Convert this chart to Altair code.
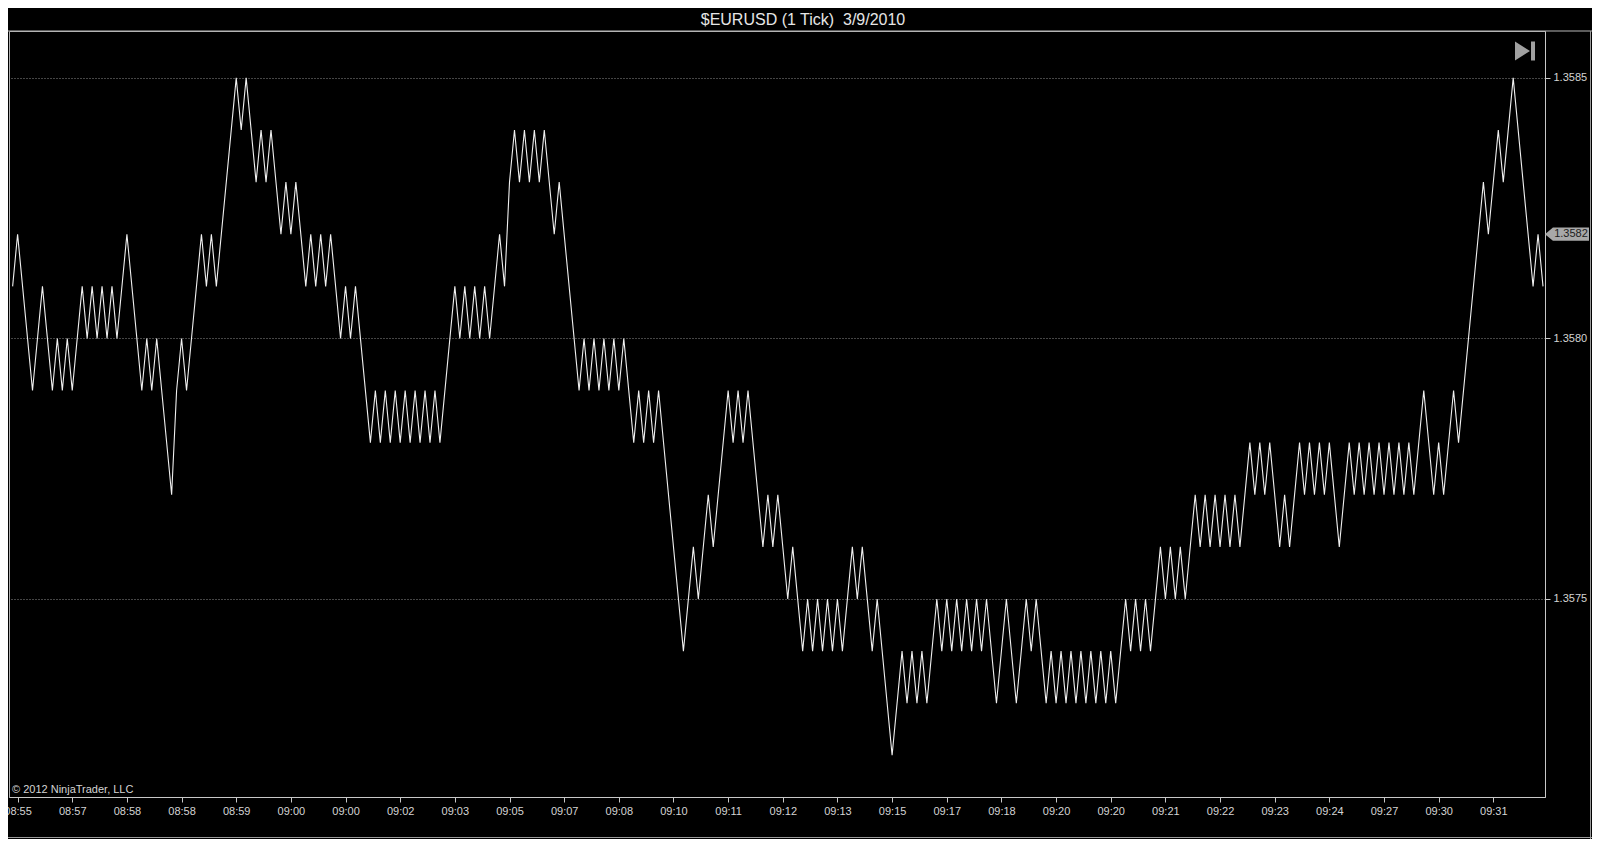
import json
import altair as alt
import pandas as pd

# ---- data (tick index of each turning point, price) ----
tick_index = [
    0, 1, 4, 6, 8, 9, 10, 11, 12, 14, 15, 16, 17, 18, 19, 20, 21, 23, 26, 27, 28, 29, 32, 33, 34, 35, 38, 39,
    40, 41, 45, 46, 47, 49, 50, 51, 52, 54, 55, 56, 57, 59, 60, 61, 62, 63, 64, 66, 67, 68, 69,
    72, 73, 74, 75, 76, 77, 78, 79, 80, 81, 82, 83, 84, 85, 86,
    89, 90, 91, 92, 93, 94, 95, 96, 98, 99, 100, 101, 102, 103, 104, 105, 106, 107, 109, 110,
    114, 115, 116, 117, 118, 119, 120, 121, 122, 123, 125, 126, 127, 128, 129, 130,
    135, 137, 138, 140, 141, 144, 145, 146, 147, 148, 151, 152, 153, 154, 156, 157,
    159, 160, 161, 162, 163, 164, 165, 166, 167, 169, 170, 171, 173, 174, 177,
    179, 180, 181, 182, 183, 184, 186, 187,
    188, 189, 190, 191, 192, 193, 194, 195, 196, 198, 200, 202, 204, 205, 206,
    208, 209, 210, 211, 212, 213, 214, 215, 216, 217, 218, 219, 220, 221, 222,
    224, 225, 226, 227, 228, 229, 231, 232, 233, 234, 235, 236, 238, 239,
    240, 241, 242, 243, 244, 245, 246, 247, 249, 250, 251, 252, 253, 255, 256, 257,
    259, 260, 261, 262, 263, 264, 265, 267, 269, 270, 271, 272, 273, 274, 275, 276,
    277, 278, 279, 280, 281, 282, 284, 286, 287,
    288, 290, 291, 296, 297, 299, 300, 302, 306, 307, 308,
]
price = [
    1.3581, 1.3582, 1.3579, 1.3581, 1.3579, 1.3580, 1.3579, 1.3580, 1.3579, 1.3581, 1.3580, 1.3581, 1.3580, 1.3581,
    1.3580, 1.3581, 1.3580, 1.3582, 1.3579, 1.3580, 1.3579, 1.3580, 1.3577, 1.3579, 1.3580, 1.3579, 1.3582, 1.3581,
    1.3582, 1.3581, 1.3585, 1.3584, 1.3585, 1.3583, 1.3584, 1.3583, 1.3584, 1.3582, 1.3583, 1.3582, 1.3583,
    1.3581, 1.3582, 1.3581, 1.3582, 1.3581, 1.3582, 1.3580, 1.3581, 1.3580, 1.3581,
    1.3578, 1.3579, 1.3578, 1.3579, 1.3578, 1.3579, 1.3578, 1.3579, 1.3578, 1.3579, 1.3578, 1.3579, 1.3578, 1.3579, 1.3578,
    1.3581, 1.3580, 1.3581, 1.3580, 1.3581, 1.3580, 1.3581, 1.3580, 1.3582, 1.3581, 1.3583, 1.3584, 1.3583, 1.3584,
    1.3583, 1.3584, 1.3583, 1.3584, 1.3582, 1.3583,
    1.3579, 1.3580, 1.3579, 1.3580, 1.3579, 1.3580, 1.3579, 1.3580, 1.3579, 1.3580, 1.3578, 1.3579, 1.3578, 1.3579, 1.3578, 1.3579,
    1.3574, 1.3576, 1.3575, 1.3577, 1.3576, 1.3579, 1.3578, 1.3579, 1.3578, 1.3579, 1.3576, 1.3577, 1.3576, 1.3577, 1.3575, 1.3576,
    1.3574, 1.3575, 1.3574, 1.3575, 1.3574, 1.3575, 1.3574, 1.3575, 1.3574, 1.3576, 1.3575, 1.3576, 1.3574, 1.3575, 1.3572,
    1.3574, 1.3573, 1.3574, 1.3573, 1.3574, 1.3573, 1.3575, 1.3574,
    1.3575, 1.3574, 1.3575, 1.3574, 1.3575, 1.3574, 1.3575, 1.3574, 1.3575, 1.3573, 1.3575, 1.3573, 1.3575, 1.3574, 1.3575,
    1.3573, 1.3574, 1.3573, 1.3574, 1.3573, 1.3574, 1.3573, 1.3574, 1.3573, 1.3574, 1.3573, 1.3574, 1.3573, 1.3574, 1.3573,
    1.3575, 1.3574, 1.3575, 1.3574, 1.3575, 1.3574, 1.3576, 1.3575, 1.3576, 1.3575, 1.3576, 1.3575, 1.3577, 1.3576,
    1.3577, 1.3576, 1.3577, 1.3576, 1.3577, 1.3576, 1.3577, 1.3576, 1.3578, 1.3577, 1.3578, 1.3577, 1.3578, 1.3576, 1.3577, 1.3576,
    1.3578, 1.3577, 1.3578, 1.3577, 1.3578, 1.3577, 1.3578, 1.3576, 1.3578, 1.3577, 1.3578, 1.3577, 1.3578, 1.3577, 1.3578, 1.3577,
    1.3578, 1.3577, 1.3578, 1.3577, 1.3578, 1.3577, 1.3579, 1.3577, 1.3578,
    1.3577, 1.3579, 1.3578, 1.3583, 1.3582, 1.3584, 1.3583, 1.3585, 1.3581, 1.3582, 1.3581,
]

label_ticks = [1, 12, 23, 34, 45, 56, 67, 78, 89, 100, 111, 122, 133, 144, 155, 166, 177, 188, 199, 210,
               221, 232, 243, 254, 265, 276, 287, 298]
time_labels = ["08:55", "08:57", "08:58", "08:58", "08:59", "09:00", "09:00", "09:02", "09:03", "09:05",
               "09:07", "09:08", "09:10", "09:11", "09:12", "09:13", "09:15", "09:17", "09:18", "09:20",
               "09:20", "09:21", "09:22", "09:23", "09:24", "09:27", "09:30", "09:31"]
price_ticks = [1.3575, 1.3580, 1.3585]
last_price = [1.3582]
title_text = "$EURUSD (1 Tick)\u00a0 3/9/2010"
copyright_text = "\u00a9 2012 NinjaTrader, LLC"

# ---- layout ----
PW, PH = 1536, 766
FONT = "Liberation Sans"
FG = "#d4d4d4"

df = pd.DataFrame({"tick": tick_index, "price": price})
tag_df = pd.DataFrame({"price": last_price, "label": [f"{p:.4f}" for p in last_price]})
one = pd.DataFrame({"k": [0]})

xscale = alt.Scale(domain=[-0.73, 308.4], nice=False, zero=False)
yscale = alt.Scale(domain=[1.35712, 1.35859], nice=False, zero=False)

label_expr = f"{json.dumps(time_labels)}[indexof({json.dumps(label_ticks)}, datum.value)]"

line = alt.Chart(df).mark_line(color="#f0f0f0", strokeWidth=1.1, clip=True).encode(
    x=alt.X("tick:Q", scale=xscale, title=None,
            axis=alt.Axis(values=label_ticks, labelExpr=label_expr, grid=False,
                          domainColor="#c8c8c8", tickColor="#c8c8c8", tickSize=5,
                          labelColor=FG, labelFont=FONT, labelFontSize=11, labelPadding=3,
                          labelFlush=False, labelOverlap=False)),
    y=alt.Y("price:Q", scale=yscale, title=None,
            axis=alt.Axis(orient="right", values=price_ticks, format=".4f",
                          grid=True, gridColor="#8a8a8a", gridDash=[1, 2], gridWidth=1,
                          domainColor="#c8c8c8", tickColor="#c8c8c8", tickSize=5,
                          labelColor=FG, labelFont=FONT, labelFontSize=11, labelPadding=3)),
)

tag_shape = "M -1 0 L -0.64 -0.3 L 1 -0.3 L 1 0.3 L -0.64 0.3 Z"
tag = alt.Chart(tag_df).mark_point(shape=tag_shape, size=1936, filled=True, color="#a8a8a8",
                                   opacity=1, strokeWidth=0).encode(
    x=alt.value(PW + 22), y=alt.Y("price:Q", scale=yscale))
tag_text = alt.Chart(tag_df).mark_text(font=FONT, fontSize=11, color="#1c1c1c", align="center",
                                       baseline="middle").encode(
    x=alt.value(PW + 26), y=alt.Y("price:Q", scale=yscale), text="label:N")

icon_shape = "M -1 -0.95 L 0.5 0 L -1 0.95 Z M 0.6 -0.95 L 1 -0.95 L 1 0.95 L 0.6 0.95 Z"
icon = alt.Chart(one).mark_point(shape=icon_shape, size=400, filled=True, color="#a0a0a0",
                                 opacity=1, strokeWidth=0).encode(
    x=alt.value(PW - 20), y=alt.value(20))

copyright = alt.Chart(one).mark_text(text=copyright_text, font=FONT, fontSize=11, color=FG,
                                     align="left", baseline="bottom").encode(
    x=alt.value(3), y=alt.value(PH - 2))

title = alt.Chart(one).mark_text(text=title_text, font=FONT, fontSize=16, color="#e6e6e6",
                                 align="center", baseline="middle").encode(
    x=alt.value(PW / 2 + 26), y=alt.value(-11))

top_rule = alt.Chart(one).mark_rule(color="#b8b8b8", strokeWidth=1).encode(
    x=alt.value(-2), x2=alt.value(PW + 48), y=alt.value(0))
right_rule = alt.Chart(one).mark_rule(color="#9a9a9a", strokeWidth=1).encode(
    x=alt.value(PW + 45.5), y=alt.value(0), y2=alt.value(PH + 42))
bottom_rule = alt.Chart(one).mark_rule(color="#9a9a9a", strokeWidth=1).encode(
    x=alt.value(-2), x2=alt.value(PW + 48), y=alt.value(PH + 40.5))

chart = alt.layer(line, tag, tag_text, icon, copyright, title,
                  top_rule, right_rule, bottom_rule).properties(
    width=PW, height=PH,
    background="#000000",
    padding={"left": 1, "top": 23, "right": 47, "bottom": 42},
    autosize=alt.AutoSizeParams(type="none"),
).configure_view(stroke="#b0b0b0", strokeWidth=1)

chart.save("out.html", embed_options={"renderer": "svg", "actions": False})
